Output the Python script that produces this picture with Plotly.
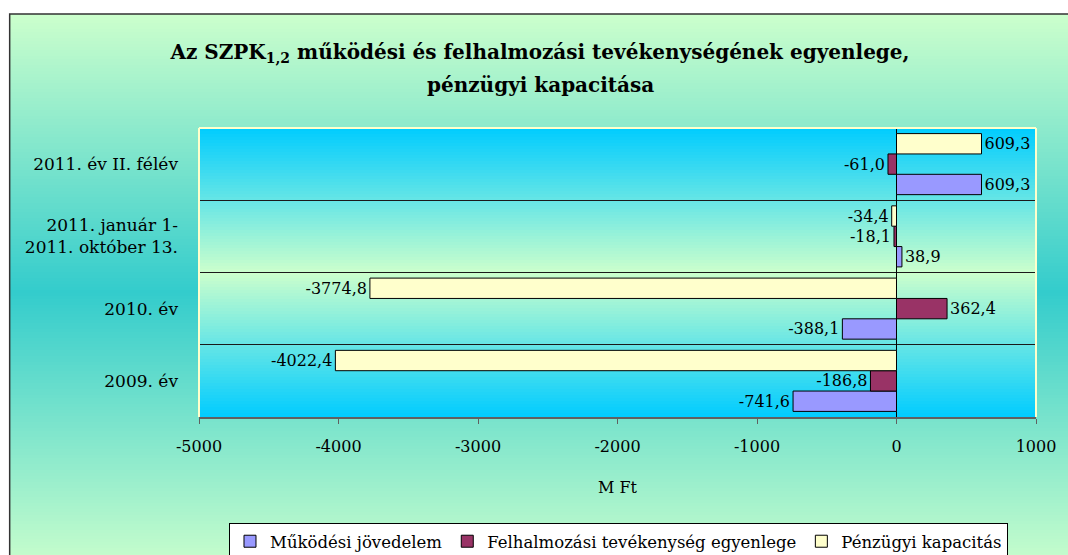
import plotly.graph_objects as go

# ---------------- data ----------------
categories = ["2009. év", "2010. év", "2011. január 1-<br>2011. október 13.", "2011. év II. félév"]
mukodesi = [-741.6, -388.1, 38.9, 609.3]
felhalmozasi = [-186.8, 362.4, -18.1, -61.0]
penzugyi = [-4022.4, -3774.8, -34.4, 609.3]
series_names = ["Működési jövedelem", "Felhalmozási tevékenység egyenlege", "Pénzügyi kapacitás"]
tick_values = [-5000, -4000, -3000, -2000, -1000, 0, 1000]
tick_labels = ["-5000", "-4000", "-3000", "-2000", "-1000", "0", "1000"]
title_line1 = "Az SZPK<sub>1,2</sub> működési és felhalmozási tevékenységének egyenlege,"
title_line2 = "pénzügyi kapacitása"
axis_title = "M Ft"

# ---------------- style ----------------
W, H = 1068, 575          # taller than the window: the legend is cut at the bottom as in the original
L, R, T = 199, 29, 128
PLOT_BOTTOM = 417
B = H - PLOT_BOTTOM
PW, PH = W - L - R, H - T - B
FONT = "DejaVu Serif"
colors = ["#9999ff", "#993366", "#ffffcc"]


def px2x(px):
    return (px - L) / PW


def py2y(py):
    return (PLOT_BOTTOM - py) / PH


def hex2rgb(h):
    h = h.lstrip("#")
    return tuple(int(h[i:i + 2], 16) for i in (0, 2, 4))


def mix(c1, c2, t):
    a, b = hex2rgb(c1), hex2rgb(c2)
    return "rgb(%d,%d,%d)" % tuple(round(a[i] + (b[i] - a[i]) * t) for i in range(3))


def fmt(v):
    return ("%.1f" % v).replace(".", ",")


shapes = []
# outer chart area gradient (light green -> teal -> light green)
top, bot, mid = 14, 572, 292
step = 3
y = top
while y < H:
    yc = y + step / 2
    if yc <= mid:
        t = (yc - top) / (mid - top)
    else:
        t = max(0.0, (bot - yc) / (bot - mid))
    shapes.append(dict(type="rect", xref="paper", yref="paper", layer="below",
                       x0=px2x(9), x1=px2x(1080), y0=py2y(y), y1=py2y(y + step + 0.5),
                       fillcolor=mix("#ccffcc", "#33cccc", t), line=dict(width=0)))
    y += step

# plot area gradient (cyan -> light green -> cyan)
ptop, pbot = T, PLOT_BOTTOM
pmid = (ptop + pbot) / 2
y = ptop
while y < pbot:
    yc = y + step / 2
    t = 1 - abs(yc - pmid) / (pmid - ptop)
    y1 = min(y + step + 0.5, pbot)
    shapes.append(dict(type="rect", xref="paper", yref="paper", layer="below",
                       x0=0, x1=1, y0=py2y(y), y1=py2y(y1),
                       fillcolor=mix("#00ccff", "#ccffcc", max(0, min(1, t))), line=dict(width=0)))
    y += step

# frame of the chart area
shapes.append(dict(type="rect", xref="paper", yref="paper", layer="below",
                   x0=px2x(9), x1=px2x(1100), y0=py2y(14), y1=py2y(640),
                   fillcolor="rgba(0,0,0,0)", line=dict(color="#333333", width=1.5)))
# light-yellow plot area border (top, left, right)
for (x0, y0, x1, y1) in [(0, 1, 1, 1), (0, 0, 0, 1), (1, 0, 1, 1)]:
    shapes.append(dict(type="line", xref="paper", yref="paper", layer="above",
                       x0=x0, y0=y0, x1=x1, y1=y1, line=dict(color="#ffffcc", width=2)))

fig = go.Figure()
for name, vals, col in zip(series_names, [mukodesi, felhalmozasi, penzugyi], colors):
    fig.add_trace(go.Bar(
        y=categories, x=vals, name=name, orientation="h",
        marker=dict(color=col, line=dict(color="#000000", width=1)),
        text=[fmt(v) for v in vals], textposition="outside",
        textfont=dict(family=FONT, size=16, color="#000000"),
        constraintext="none", cliponaxis=False,
    ))

fig.update_layout(
    width=W, height=H,
    margin=dict(l=L, r=R, t=T, b=B),
    paper_bgcolor="#ffffff", plot_bgcolor="rgba(0,0,0,0)",
    barmode="group", bargap=0.155, bargroupgap=0,
    font=dict(family=FONT, size=16, color="#000000"),
    shapes=shapes,
    title=dict(text=title_line1, x=540 / W, xanchor="center", xref="container",
               y=1 - 52 / H, yanchor="middle", yref="container",
               font=dict(family=FONT, size=20, color="#000000", weight="bold")),
    annotations=[dict(text="<b>" + title_line2 + "</b>", xref="paper", yref="paper",
                      x=px2x(542), y=py2y(85), xanchor="center", yanchor="middle",
                      showarrow=False, font=dict(family=FONT, size=20, color="#000000"))],
    legend=dict(orientation="h", x=px2x(620), xanchor="center", y=py2y(523), yanchor="top",
                bgcolor="#ffffff", bordercolor="#000000", borderwidth=1,
                font=dict(family=FONT, size=16.5), traceorder="normal"),
    showlegend=True,
)
fig.update_xaxes(range=[-5000, 1000], tickvals=tick_values, ticktext=tick_labels,
                 showgrid=False, zeroline=True, zerolinecolor="#000000", zerolinewidth=1,
                 showline=True, linecolor="#606060", linewidth=1.5,
                 ticks="outside", ticklen=5, tickcolor="#606060", ticklabelstandoff=9,
                 title=dict(text=axis_title, standoff=27, font=dict(family=FONT, size=16)),
                 tickfont=dict(family=FONT, size=16))
fig.update_yaxes(categoryorder="array", categoryarray=categories,
                 tickson="boundaries", showgrid=True, gridcolor="#1a1a1a", gridwidth=1,
                 ticks="", ticklabelstandoff=20, showline=False,
                 tickfont=dict(family=FONT, size=17))

fig.write_html("out.html", config={"displayModeBar": False},
               post_script="document.body.style.margin='0';"
                           "document.documentElement.style.overflow='hidden';"
                           "document.body.style.overflow='hidden';")
